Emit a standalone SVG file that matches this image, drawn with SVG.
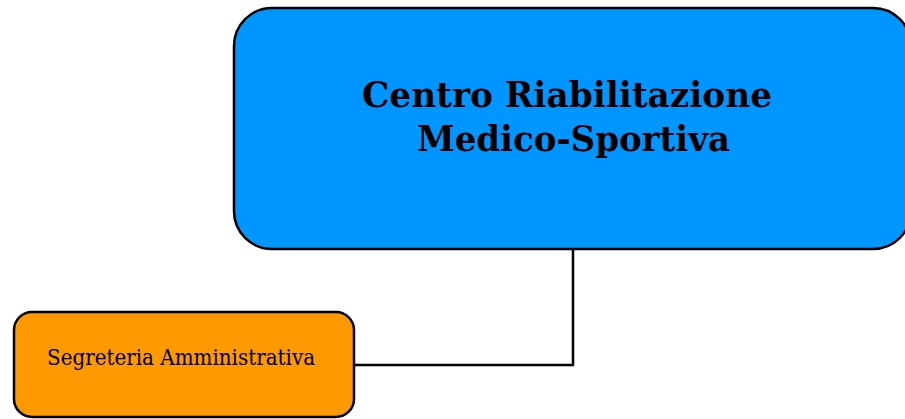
<svg xmlns="http://www.w3.org/2000/svg" width="905" height="419" viewBox="0 0 905 419">
<style>
.box{stroke:#000;stroke-width:2.5}
.title{font-family:"DejaVu Serif","Liberation Serif",serif;font-weight:bold;font-size:36px;fill:#000}
.lbl{font-family:"DejaVu Serif","Liberation Serif",serif;font-size:22px;fill:#000}
.conn{fill:none;stroke:#000;stroke-width:2.5}
</style>
<g id="connectors">
<path class="conn" d="M573,249 V365 H354"/>
</g>
<g id="centro">
<rect class="box" x="234" y="8" width="677" height="241" rx="38" ry="38" fill="#0096ff"/>
<text class="title" x="567" y="107" text-anchor="middle" textLength="410" lengthAdjust="spacingAndGlyphs">Centro Riabilitazione</text>
<text class="title" x="573.5" y="151" text-anchor="middle" textLength="313" lengthAdjust="spacingAndGlyphs">Medico-Sportiva</text>
</g>
<g id="segreteria">
<rect class="box" x="14" y="312" width="340" height="105" rx="18" ry="18" fill="#ff9900"/>
<text class="lbl" x="181" y="365" text-anchor="middle" textLength="268" lengthAdjust="spacingAndGlyphs">Segreteria Amministrativa</text>
</g>
</svg>
